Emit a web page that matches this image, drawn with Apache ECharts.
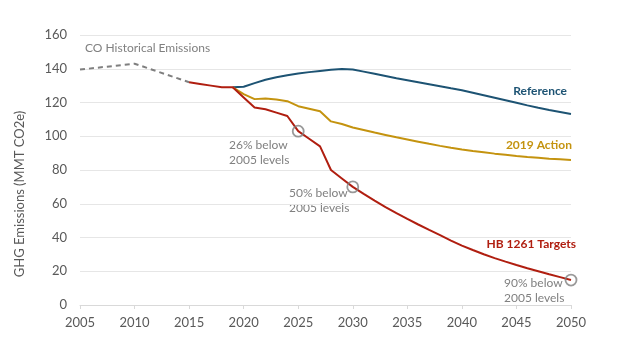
<!DOCTYPE html>
<html><head><meta charset="utf-8">
<script src="https://cdn.jsdelivr.net/npm/echarts@6/dist/echarts.min.js"></script>
<style>html,body{margin:0;padding:0;background:#fff}#c{width:624px;height:361px}</style>
</head><body><div id="c"></div>
<script>
const histYears = [2005, 2010, 2015];
const histValues = [139.5, 143, 132];

const targetYears = [2015,2016,2017,2018,2019,2020,2021,2022,2023,2024,2025,2026,2027,2028,2029,2030,2031,2032,2033,2034,2035,2036,2037,2038,2039,2040,2041,2042,2043,2044,2045,2046,2047,2048,2049,2050];
const targetValues = [132,131,130,129,129,123,117,116,114,112,103,98.5,94,80,75,70,65.8,61.8,58,54.4,51,47.7,44.5,41.4,38.2,35.2,32.6,30.1,27.8,25.7,23.7,21.8,20,18.2,16.5,14.8];

const scenYears = [2019,2020,2021,2022,2023,2024,2025,2026,2027,2028,2029,2030,2031,2032,2033,2034,2035,2036,2037,2038,2039,2040,2041,2042,2043,2044,2045,2046,2047,2048,2049,2050];
const referenceValues = [129,129.3,131.5,133.5,135,136.2,137.2,138,138.7,139.4,139.9,139.5,138.3,137,135.7,134.4,133.2,132,130.8,129.6,128.4,127.3,125.8,124.3,122.8,121.3,119.8,118.3,116.9,115.6,114.4,113.2];
const actionValues = [129,125,122,122.3,121.8,120.8,117.8,116.3,114.8,108.8,107.3,105.2,103.7,102.2,100.8,99.4,98.1,96.8,95.5,94.3,93.2,92.2,91.3,90.5,89.7,89,88.3,87.7,87.2,86.7,86.3,85.9];

const milestoneYears = [2025, 2030, 2050];
const milestoneValues = [103, 70, 14.8];

const xTicks = {min: 2005, max: 2050, interval: 5};
const yTicks = {min: 0, max: 160, interval: 20};

const zip = (a, b) => a.map((x, i) => [x, b[i]]);
const FONT = 'Lato';

const chart = echarts.init(document.getElementById('c'));
chart.setOption({
  animation: false,
  textStyle: {fontFamily: FONT},
  grid: {left: 80, right: 53, top: 35, bottom: 56},
  xAxis: {
    type: 'value', min: xTicks.min, max: xTicks.max, interval: xTicks.interval,
    axisLine: {lineStyle: {color: '#d9d9d9', width: 1}},
    axisTick: {show: true, length: 4, lineStyle: {color: '#d9d9d9'}},
    axisLabel: {color: '#595959', fontSize: 13, margin: 11, fontFamily: FONT, formatter: v => String(v)},
    splitLine: {show: false}
  },
  yAxis: {
    type: 'value', min: yTicks.min, max: yTicks.max, interval: yTicks.interval,
    axisLine: {show: false}, axisTick: {show: false},
    axisLabel: {color: '#595959', fontSize: 13, margin: 13, fontFamily: FONT},
    splitLine: {lineStyle: {color: '#e6e6e6', width: 1}}
  },
  series: [
    {type: 'line', data: zip(histYears, histValues), symbol: 'none',
     lineStyle: {color: '#7f7f7f', width: 2, type: [5, 4]}},
    {type: 'line', data: zip(scenYears, referenceValues), symbol: 'none',
     lineStyle: {color: '#1d5373', width: 2}},
    {type: 'line', data: zip(scenYears, actionValues), symbol: 'none',
     lineStyle: {color: '#c4930f', width: 2}},
    {type: 'line', data: zip(targetYears, targetValues), symbol: 'none',
     lineStyle: {color: '#b01e10', width: 2}},
    {type: 'scatter', data: zip(milestoneYears, milestoneValues), symbol: 'circle', symbolSize: 11,
     itemStyle: {color: 'rgba(0,0,0,0)', borderColor: '#7f7f7f', borderWidth: 1.8}, z: 5}
  ],
  graphic: [
    {type: 'text', left: 85, top: 42, style: {text: 'CO Historical Emissions', fill: '#808080', font: '12px ' + FONT}},
    {type: 'text', right: 57, top: 85, style: {text: 'Reference', fill: '#1d5373', font: 'bold 12px ' + FONT}},
    {type: 'text', right: 52, top: 139, style: {text: '2019 Action', fill: '#c4930f', font: 'bold 12px ' + FONT}},
    {type: 'text', right: 48, top: 238, style: {text: 'HB 1261 Targets', fill: '#b01e10', font: 'bold 12px ' + FONT}},
    {type: 'text', left: 229, top: 138, style: {text: '26% below\n2005 levels', fill: '#808080', font: '12px ' + FONT, lineHeight: 15}},
    {type: 'text', left: 289, top: 186, style: {text: '50% below\n2005 levels', fill: '#808080', font: '12px ' + FONT, lineHeight: 15}},
    {type: 'text', left: 504, top: 276, style: {text: '90% below\n2005 levels', fill: '#808080', font: '12px ' + FONT, lineHeight: 15}},
    {type: 'text', x: 20, y: 194, rotation: Math.PI / 2,
     style: {text: 'GHG Emissions (MMT CO2e)', fill: '#595959', font: '13px ' + FONT, align: 'center', verticalAlign: 'middle'}}
  ]
});
</script></body></html>
